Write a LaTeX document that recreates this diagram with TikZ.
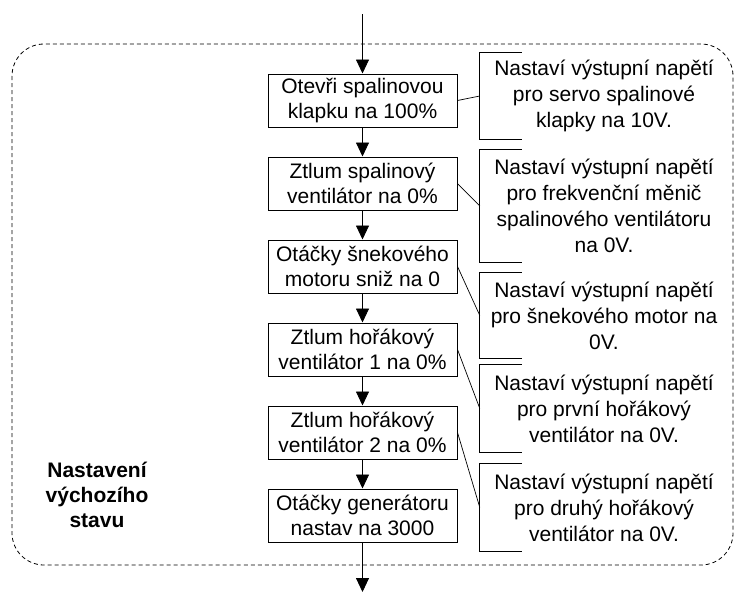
\documentclass[tikz,border=0pt]{standalone}
\usepackage{fontspec}
\setmainfont{Liberation Sans}
\usetikzlibrary{arrows.meta}
\begin{document}
\begin{tikzpicture}[x=1pt,y=-1pt,
  every node/.style={font=\fontsize{21}{25}\selectfont},
  stepbox/.style={draw,line width=1pt,minimum width=189pt,minimum height=53pt,
    align=center,inner sep=0pt},
  note/.style={minimum width=248pt,align=center,inner sep=0pt,
    font=\fontsize{21}{26}\selectfont},
  flow/.style={-{Triangle[length=14pt,width=13pt]},line width=0.9pt},
  link/.style={line width=0.7pt},
  bracket/.style={line width=0.9pt},
  group/.style={line width=0.8pt,dash pattern=on 4pt off 3pt,rounded corners=32pt}
]
\useasboundingbox (0,0) rectangle (736,598);

% dashed frame of the block
\draw[group] (12,44) rectangle (733,565);

% block title
\node[font=\bfseries\fontsize{21}{25}\selectfont,align=center] (title) at (97,495)
  {Nastavení\\výchozího\\stavu};

% steps
\coordinate (in) at (362.5,14);
\coordinate (out) at (362.5,592);
\node[stepbox] (s1) at (362.5,100.5) {Otevři spalinovou\\klapku na 100\%};
\node[stepbox] (s2) at (362.5,183.5) {Ztlum spalinový\\ventilátor na 0\%};
\node[stepbox] (s3) at (362.5,266.5) {Otáčky šnekového\\motoru sniž na 0};
\node[stepbox] (s4) at (362.5,349.5) {Ztlum hořákový\\ventilátor 1 na 0\%};
\node[stepbox] (s5) at (362.5,432.5) {Ztlum hořákový\\ventilátor 2 na 0\%};
\node[stepbox] (s6) at (362.5,515.5) {Otáčky generátoru\\nastav na 3000};

\draw[flow] (in) -- (s1);
\draw[flow] (s1) -- (s2);
\draw[flow] (s2) -- (s3);
\draw[flow] (s3) -- (s4);
\draw[flow] (s4) -- (s5);
\draw[flow] (s5) -- (s6);
\draw[flow] (s6) -- (out);

% annotations
\node[note,minimum height=86pt] (n1) at (604,96)
  {Nastaví výstupní napětí\\pro servo spalinové\\klapky na 10V.};
\node[note,minimum height=112pt] (n2) at (604,206)
  {Nastaví výstupní napětí\\pro frekvenční měnič\\spalinového ventilátoru\\na 0V.};
\node[note,minimum height=85pt] (n3) at (604,315.5)
  {Nastaví výstupní napětí\\pro šnekového motor na\\0V.};
\node[note,minimum height=87pt] (n4) at (604,408.5)
  {Nastaví výstupní napětí\\pro první hořákový\\ventilátor na 0V.};
\node[note,minimum height=87pt] (n5) at (604,507.5)
  {Nastaví výstupní napětí\\pro druhý hořákový\\ventilátor na 0V.};

\foreach \n in {n1,n2,n3,n4,n5}
  \draw[bracket] ([xshift=42pt]\n.north west) -- (\n.north west)
    -- (\n.south west) -- ([xshift=42pt]\n.south west);

\draw[link] (s1.east) -- (n1.west);
\draw[link] (s2.east) -- (n2.west);
\draw[link] (s3.east) -- (n3.west);
\draw[link] (s4.east) -- (n4.west);
\draw[link] (s5.east) -- (n5.west);
\end{tikzpicture}
\end{document}
